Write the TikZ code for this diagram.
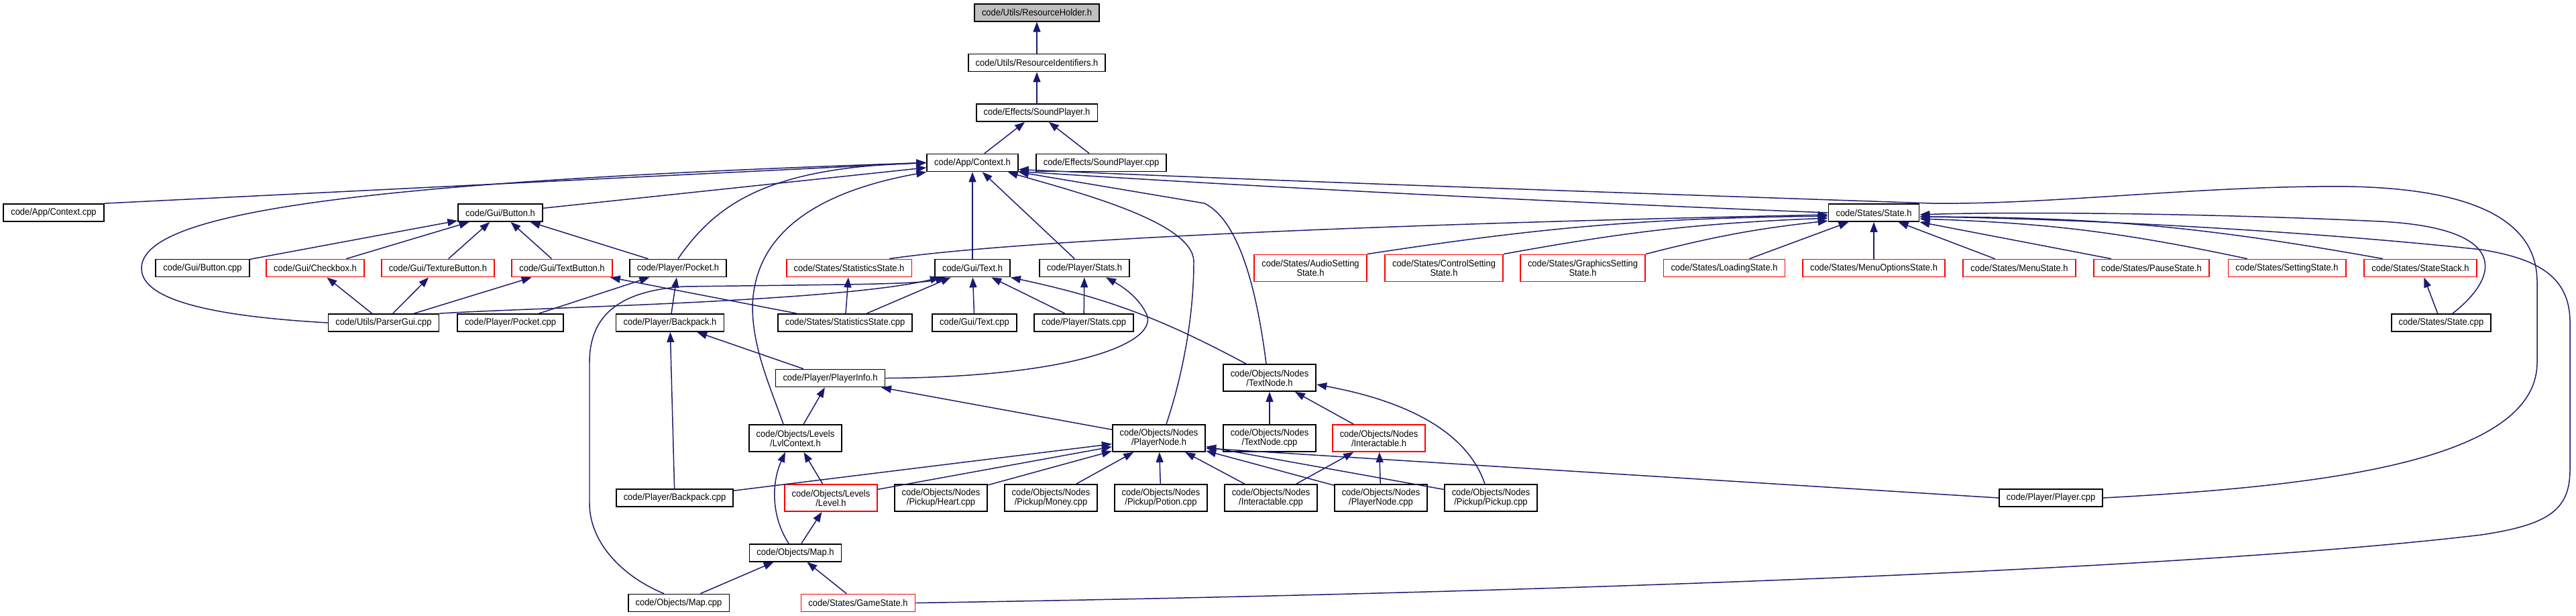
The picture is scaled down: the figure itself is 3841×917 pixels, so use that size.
\documentclass[tikz,border=0pt]{standalone}
\usepackage{fontspec}
\setmainfont{Liberation Sans}[FakeStretch=0.92]
\usepackage{xcolor}
\definecolor{edgeblue}{RGB}{25,25,112}
\definecolor{boxred}{RGB}{255,0,0}
\definecolor{rootgray}{RGB}{191,191,191}
\usepackage{tikz}
\usetikzlibrary{arrows.meta}

\begin{document}
\begin{tikzpicture}[
    x=0.01cm, y=-0.01cm,
    font=\fontsize{4}{4}\selectfont,
    file/.style={rectangle, draw=black, line width=0.5pt, fill=white, inner xsep=0.11cm, inner ysep=0pt, minimum height=0.26cm, align=center},
    twoline/.style={file, minimum height=0.40cm},
    missing/.style={draw=boxred},
    root/.style={file, fill=rootgray},
    inc/.style={draw=edgeblue, line width=0.42pt, -{Triangle[length=0.15cm, width=0.11cm]}},
]
\useasboundingbox (0,0) rectangle (3841,917);

% Header chain
\node[root] (rh) at (1546,18.7) {code/Utils/ResourceHolder.h};
\node[file] (rid) at (1546,93.5) {code/Utils/ResourceIdentifiers.h};
\node[file] (sph) at (1546,168) {code/Effects/SoundPlayer.h};
\node[file] (ctx) at (1450,242.5) {code/App/Context.h};
\node[file] (spcpp) at (1642,242.5) {code/Effects/SoundPlayer.cpp};

\node[file] (ctxcpp) at (80,317) {code/App/Context.cpp};
\node[file] (btn) at (746,317) {code/Gui/Button.h};
\node[file] (st) at (2794,317) {code/States/State.h};

% Row of Gui / States headers
\node[file] (btncpp) at (302,399.5) {code/Gui/Button.cpp};
\node[file,missing] (chk) at (470,399.5) {code/Gui/Checkbox.h};
\node[file,missing] (txbtn) at (653,399.5) {code/Gui/TextureButton.h};
\node[file,missing] (tbtn) at (838,399.5) {code/Gui/TextButton.h};
\node[file] (pocket) at (1011,399.5) {code/Player/Pocket.h};
\node[file,missing] (ssh) at (1266,399.5) {code/States/StatisticsState.h};
\node[file] (text) at (1450,399.5) {code/Gui/Text.h};
\node[file] (stats) at (1617,399.5) {code/Player/Stats.h};
\node[twoline,missing] (audio) at (1954,399.5) {code/States/AudioSetting\\State.h};
\node[twoline,missing] (control) at (2153,399.5) {code/States/ControlSetting\\State.h};
\node[twoline,missing] (graphics) at (2360,399.5) {code/States/GraphicsSetting\\State.h};
\node[file,missing] (loading) at (2571,399.5) {code/States/LoadingState.h};
\node[file,missing] (menuopt) at (2794,399.5) {code/States/MenuOptionsState.h};
\node[file,missing] (menu) at (3011,399.5) {code/States/MenuState.h};
\node[file,missing] (pause) at (3208,399.5) {code/States/PauseState.h};
\node[file,missing] (setting) at (3410,399.5) {code/States/SettingState.h};
\node[file,missing] (stack) at (3609,399.5) {code/States/StateStack.h};

\node[file] (parser) at (572,481) {code/Utils/ParserGui.cpp};
\node[file] (pocketcpp) at (761,481) {code/Player/Pocket.cpp};
\node[file] (backpack) at (999,481) {code/Player/Backpack.h};
\node[file] (sscpp) at (1260,481) {code/States/StatisticsState.cpp};
\node[file] (textcpp) at (1453,481) {code/Gui/Text.cpp};
\node[file] (statscpp) at (1616,481) {code/Player/Stats.cpp};
\node[file] (statecpp) at (3640,481) {code/States/State.cpp};

\node[file] (info) at (1238,563.5) {code/Player/PlayerInfo.h};
\node[twoline] (textnode) at (1893,563) {code/Objects/Nodes\\/TextNode.h};

% Objects
\node[twoline] (lvl) at (1186,653) {code/Objects/Levels\\/LvlContext.h};
\node[twoline] (pnode) at (1728,653) {code/Objects/Nodes\\/PlayerNode.h};
\node[twoline] (tncpp) at (1893,653) {code/Objects/Nodes\\/TextNode.cpp};
\node[twoline,missing] (inter) at (2056,653) {code/Objects/Nodes\\/Interactable.h};

\node[file] (bpcpp) at (1006,742) {code/Player/Backpack.cpp};
\node[twoline,missing] (level) at (1239,742) {code/Objects/Levels\\/Level.h};
\node[twoline] (heart) at (1403,742) {code/Objects/Nodes\\/Pickup/Heart.cpp};
\node[twoline] (money) at (1567,742) {code/Objects/Nodes\\/Pickup/Money.cpp};
\node[twoline] (potion) at (1731,742) {code/Objects/Nodes\\/Pickup/Potion.cpp};
\node[twoline] (intercpp) at (1895,742) {code/Objects/Nodes\\/Interactable.cpp};
\node[twoline] (pncpp) at (2059,742) {code/Objects/Nodes\\/PlayerNode.cpp};
\node[twoline] (pickup) at (2223,742) {code/Objects/Nodes\\/Pickup/Pickup.cpp};
\node[file] (player) at (3058,742) {code/Player/Player.cpp};

\node[file] (map) at (1186,823.7) {code/Objects/Map.h};
\node[file] (mapcpp) at (1012,898.5) {code/Objects/Map.cpp};
\node[file,missing] (game) at (1279.5,898.5) {code/States/GameState.h};

% Includes: chain
\draw[inc] (rid) -- (rh);
\draw[inc] (sph) -- (rid);
\draw[inc] (ctx) -- (sph);
\draw[inc] (spcpp) -- (sph);

% Includes of Context.h
\draw[inc] (ctxcpp.north east) -- (ctx.west);
\draw[inc] (parser.west) .. controls (330,472) and (211,450) .. (211,400) .. controls (211,320) and (500,272) .. (ctx.west);
\draw[inc] (btn) -- (ctx);
\draw[inc] (pocket.north) .. controls (1070,300) and (1150,250) .. (ctx.west);
\draw[inc] ([xshift=-0.18cm]lvl.north) .. controls (1150,580) and (1122,520) .. (1122,457) .. controls (1125,330) and (1250,280) .. (ctx.south west);
\draw[inc] (text) -- (ctx);
\draw[inc] (stats) -- (ctx);
\draw[inc] ([xshift=0.11cm]pnode.north) .. controls (1760,570) and (1780,480) .. (1780,390) .. controls (1780,330) and (1600,285) .. ([xshift=-0.16cm]ctx.south east);
\draw[inc] ([xshift=-0.05cm]textnode.north) .. controls (1875,440) and (1850,330) .. (1796,303) -- (ctx.south east);
\draw[inc] (st.west) .. controls (2300,300) and (1900,280) .. ([yshift=-0.13cm]ctx.east);
\draw[inc] (player.east) .. controls (3450,725) and (3783,690) .. (3783,540) -- (3783,420) .. controls (3783,300) and (3620,275) .. (3455,278) .. controls (3250,280) and (3050,305) .. (2880,303) .. controls (2500,290) and (1900,270) .. ([yshift=-0.1cm]ctx.east);

% Includes of State.h
\draw[inc] ([xshift=0.6cm]ssh.north) .. controls (1500,360) and (2000,335) .. ([yshift=-0.03cm]st.west);
\draw[inc] (audio.north east) to[bend left=4] ([yshift=-0.05cm]st.west);
\draw[inc] (control.north east) to[bend left=4] ([yshift=-0.08cm]st.west);
\draw[inc] (graphics.north east) to[bend left=4] ([yshift=-0.12cm]st.west);
\draw[inc] (loading) -- (st);
\draw[inc] (menuopt) -- (st);
\draw[inc] (menu) -- (st);
\draw[inc] ([xshift=-0.6cm]pause.north) -- (st.south east);
\draw[inc] ([xshift=-0.59cm]setting.north) to[bend right=5] ([yshift=-0.09cm]st.east);
\draw[inc] ([xshift=-0.56cm]stack.north) to[bend right=5] ([yshift=-0.06cm]st.east);
\draw[inc] ([xshift=0.17cm]statecpp.north) .. controls (3730,410) and (3740,340) .. (3550,330) .. controls (3300,318) and (3000,315) .. ([yshift=-0.03cm]st.east);
\draw[inc] (game.east) .. controls (2400,882) and (3300,845) .. (3700,797) .. controls (3800,782) and (3832,760) .. (3832,700) -- (3832,480) .. controls (3832,410) and (3780,385) .. (3700,372) .. controls (3400,340) and (3050,325) .. ([yshift=-0.06cm]st.east);
\draw[inc] (statecpp) -- (stack);

% Includes of Button.h and friends
\draw[inc] (btncpp) -- (btn);
\draw[inc] (chk) -- (btn);
\draw[inc] (txbtn) -- (btn);
\draw[inc] (tbtn) -- (btn);
\draw[inc] (pocket) -- (btn);
\draw[inc] (parser) -- (chk);
\draw[inc] (parser) -- (txbtn);
\draw[inc] (parser) -- (tbtn);
\draw[inc] (sscpp) -- (tbtn);

% Includes of Gui/Text.h
\draw[inc] (parser.north east) .. controls (800,458) and (1250,450) .. ([xshift=-0.48cm]text.south);
\draw[inc] ([xshift=-0.22cm]mapcpp.north) .. controls (930,860) and (879,810) .. (879,750) -- (879,540) .. controls (879,465) and (930,433) .. (1020,427) .. controls (1250,424) and (1370,424) .. ([xshift=-0.4cm]text.south);
\draw[inc] (sscpp) -- (text);
\draw[inc] (textcpp) -- (text);
\draw[inc] (statscpp) -- (text);
\draw[inc] ([xshift=-0.35cm]textnode.north) to[bend right=8] (text.south east);

\draw[inc] (sscpp) -- (ssh);
\draw[inc] (statscpp) -- (stats);
\draw[inc] (info.east) .. controls (1600,562) and (1735,510) .. (1708,465) .. controls (1695,440) and (1670,425) .. ([xshift=0.32cm]stats.south);

% Player
\draw[inc] (pocketcpp) -- (pocket);
\draw[inc] (backpack) -- (pocket);
\draw[inc] (bpcpp) -- (backpack);
\draw[inc] (info) -- (backpack);
\draw[inc] (lvl) -- (info);
\draw[inc] (pnode) -- (info);

% Levels and map
\draw[inc] ([xshift=-0.1cm]map.north) .. controls (1150,770) and (1150,720) .. ([xshift=-0.15cm]lvl.south);
\draw[inc] (level) -- (lvl);
\draw[inc] (map) -- (level);
\draw[inc] (mapcpp) -- (map);
\draw[inc] (game) -- (map);

% Includes of PlayerNode.h
\draw[inc] (bpcpp) -- (pnode);
\draw[inc] (level) -- (pnode);
\draw[inc] (heart) -- (pnode);
\draw[inc] (money) -- (pnode);
\draw[inc] (potion) -- (pnode);
\draw[inc] (intercpp) -- (pnode);
\draw[inc] (pncpp) -- (pnode);
\draw[inc] (pickup) -- (pnode);
\draw[inc] (player.west) -- ([yshift=-0.15cm]pnode.east);

% TextNode.h and Interactable.h
\draw[inc] (tncpp) -- (textnode);
\draw[inc] (inter) -- (textnode);
\draw[inc] ([xshift=-0.09cm]pickup.north) .. controls (2190,650) and (2110,600) .. ([yshift=-0.1cm]textnode.east);
\draw[inc] (intercpp) -- (inter);
\draw[inc] (pncpp) -- (inter);

\end{tikzpicture}
\end{document}
